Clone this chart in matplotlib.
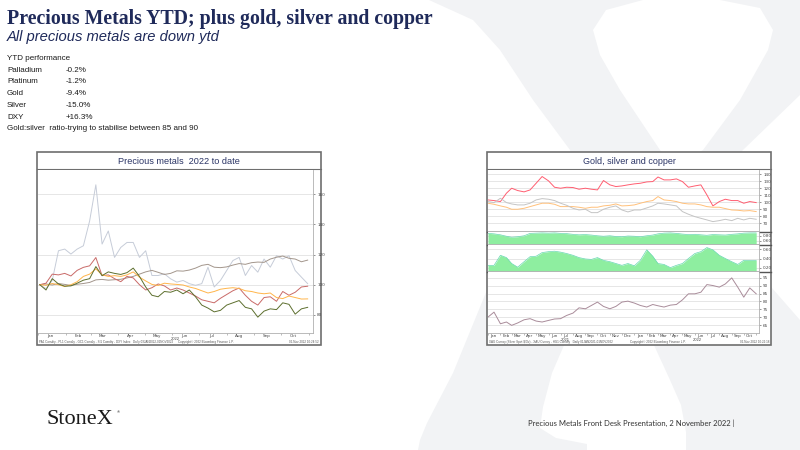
"""Precious metals slide: YTD performance text plus two Bloomberg-style charts."""

import pandas as pd
import matplotlib
matplotlib.use("Agg")
import matplotlib.pyplot as plt
import matplotlib.dates as mdates
from matplotlib.patches import Polygon, Rectangle

W, H = 800, 450
NAVY = "#1f2a5a"
SANS = ["Liberation Sans", "DejaVu Sans"]
SERIF = ["Liberation Serif", "DejaVu Serif"]

# ---- text block ----
perf_names = ["Palladium", "Platinum", "Gold", "Silver", "DXY"]
perf_values = ["-0.2%", "-1.2%", "-9.4%", "-15.0%", "+16.3%"]

# ---- chart 1: precious metals 2022 to date (weekly, rebased to 100) ----
ytd_dates = pd.date_range("2022-01-03", "2022-10-31", freq="7D")
pd_idx = [100, 97.4, 102.8, 122.5, 123.6, 120.3, 123.6, 125.8, 142.2, 166.2, 126.9,
          135.6, 118.1, 124.7, 128, 128, 118.1, 122.5, 106.1, 106.1, 107.2, 103.9,
          101.7, 102.8, 100.7, 99.6, 100.7, 111.6, 98.5, 102.8, 109.4, 116, 118.1,
          106.1, 112.7, 108.3, 117, 111.6, 119.2, 117, 119.2, 109.4, 105, 100.7]
dxy_idx = [100, 100.5, 99.8, 100.8, 100.2, 99.5, 100.3, 100.8, 101.5, 103.2, 103.5,
           103, 103.3, 103.6, 104.5, 105.5, 107, 108.5, 109.5, 108.2, 106.8, 107.5,
           109.2, 109, 109.7, 111, 112.8, 113.5, 111.6, 111.3, 111.8, 113, 114,
           113.5, 114.6, 115, 114.8, 117, 118.2, 119, 117.5, 117, 115.2, 116.3]
pt_idx = [100, 101, 107, 106.5, 107.5, 105.8, 109.5, 111.5, 112.5, 118, 106,
          106.5, 104, 102, 105.5, 104.5, 100, 96.5, 98, 100.5, 99.2, 96.5,
          97.8, 96.5, 94.5, 92.5, 90, 89, 88, 91, 93.5, 96, 97.8,
          93, 89, 86.5, 91.5, 92, 89, 95.5, 93, 95, 98.5, 99]
au_idx = [100, 99.6, 100.8, 100, 98.8, 100, 102, 105.5, 107, 110.5, 106.5,
          105.5, 106, 105.5, 106.5, 108.5, 105, 102.5, 100.2, 99.5, 101, 100.5,
          100.2, 99.8, 98.5, 97.5, 96, 94.5, 95.5, 97, 97.6, 98, 97.5,
          96, 95.5, 94.5, 94, 94.5, 91.5, 90.8, 92.5, 91.5, 90.5, 90.6]
ag_idx = [100, 96.5, 104, 100.5, 99, 99.2, 101, 103, 104, 112, 106,
          108.5, 107.5, 106.8, 108, 111, 105.5, 98.5, 93, 92, 95.5, 95,
          96.5, 94, 96.5, 92, 86.5, 84.5, 82, 83, 86.5, 88, 89.5,
          85, 84, 78.5, 82.5, 84, 83.5, 88, 87, 80.5, 84, 85]

# ---- chart 2: gold, silver and copper since 2021 (semi-monthly) ----
gsc_dates = pd.to_datetime([f"{y}-{m:02d}-{d:02d}" for y in (2021, 2022)
                            for m in range(1, 13) for d in (1, 16)
                            if (y, m) <= (2022, 10)] + ["2022-11-01"])
copper_idx = [103.3, 102.4, 101, 112.9, 120, 116.7, 114.8, 117.6, 127.1, 136.7, 130.5, 121.4,
              120, 121.4, 121, 118.6, 120, 118.6, 117.6, 131, 124.8, 122.4, 123.3, 124.8,
              126.2, 127.1, 129, 129.5, 136, 131.9, 131.9, 133.3, 129.5, 121.4, 123.3, 124.8,
              110.5, 94.8, 101, 104.3, 102.4, 102.4, 98.6, 101, 99.5]
gold_idx = [98.6, 97.1, 94.8, 92.9, 90, 90, 91.4, 93.8, 96.2, 98.6, 98.6, 97.1,
            93.8, 93.8, 93.8, 92.9, 91.4, 92.9, 92.9, 94.8, 95.7, 97.6, 94.8, 95.2,
            96.2, 98.6, 101, 102.4, 108.1, 103.3, 102.4, 101, 98.6, 97.6, 97.6, 96.2,
            93.8, 92.9, 92.9, 91, 89, 88.6, 87.6, 88.1, 86.7]
silver_idx = [101, 99.5, 105.7, 99.5, 97.6, 96.2, 96.2, 98.6, 103.3, 105.2, 104.3, 102.4,
              98.6, 95.7, 91.4, 89, 90, 85.2, 85.2, 90, 92.9, 94.8, 89, 86.2,
              89, 89, 91.9, 94.8, 98.6, 97.6, 96.2, 94.8, 86.7, 82.9, 79.5, 77.1,
              74.8, 72.4, 73.8, 75.7, 73.8, 77.1, 74.8, 77.1, 75.7]
corr_gold = [0.90, 0.88, 0.84, 0.78, 0.74, 0.76, 0.80, 0.90, 0.91, 0.92, 0.91, 0.92,
             0.90, 0.89, 0.86, 0.84, 0.85, 0.83, 0.80, 0.78, 0.80, 0.77, 0.76, 0.79,
             0.78, 0.76, 0.80, 0.83, 0.88, 0.91, 0.92, 0.90, 0.87, 0.85, 0.86, 0.84,
             0.82, 0.85, 0.84, 0.83, 0.86, 0.88, 0.91, 0.92, 0.92]
corr_copper = [0.25, 0.25, 0.47, 0.42, 0.29, 0.21, 0.33, 0.44, 0.45, 0.53, 0.55, 0.56,
               0.54, 0.51, 0.47, 0.42, 0.39, 0.38, 0.42, 0.36, 0.33, 0.29, 0.25, 0.29,
               0.24, 0.36, 0.59, 0.45, 0.29, 0.27, 0.20, 0.25, 0.29, 0.40, 0.51, 0.55,
               0.64, 0.59, 0.47, 0.40, 0.33, 0.27, 0.36, 0.36, 0.36]
gs_ratio = [70.2, 73.3, 66.0, 67.1, 65.0, 66.5, 68.5, 69.2, 67.7, 67.1, 68.1, 69,
            69.2, 71.2, 72.7, 76, 75.4, 77.5, 79.6, 76.9, 75.4, 76.9, 79.6, 80.2,
            79, 77.5, 76.5, 78.1, 77.3, 76.5, 77.7, 78.1, 81, 84.8, 84.8, 85.8,
            90.6, 90, 89, 91, 94.8, 89, 82.7, 88.5, 84.8]


def rect(left, top, right, bottom):
    """Pixel box (y down) -> figure fraction rect."""
    return [left / W, 1 - bottom / H, (right - left) / W, (bottom - top) / H]


def ftext(x, y, s, **kw):
    kw.setdefault("family", SANS)
    return fig.text(x / W, 1 - y / H, s, **kw)


def bbg_axis(ax, ylim, yticks, ylabels):
    ax.set_facecolor("white")
    ax.set_ylim(ylim)
    ax.set_yticks(yticks)
    ax.set_yticklabels(ylabels)
    ax.yaxis.tick_right()
    ax.tick_params(axis="y", labelsize=3.0, length=1.5, width=0.4, pad=1.5,
                   colors="#444444")
    ax.grid(axis="y", color="#e2e2e2", lw=0.6)
    ax.set_axisbelow(True)
    for s in ("top", "left"):
        ax.spines[s].set_visible(False)
    ax.spines["right"].set_color("#b0b0b0")
    ax.spines["right"].set_linewidth(0.6)
    ax.spines["bottom"].set_color("#b0b0b0")
    ax.spines["bottom"].set_linewidth(0.6)


def month_axis(ax, show):
    ax.xaxis.set_major_locator(mdates.MonthLocator(bymonthday=15))
    ax.xaxis.set_minor_locator(mdates.MonthLocator())
    if show:
        ax.xaxis.set_major_formatter(mdates.DateFormatter("%b"))
        ax.tick_params(axis="x", which="major", labelsize=3.0, length=0, pad=0.8,
                       colors="#444444")
        ax.tick_params(axis="x", which="minor", length=1.5, width=0.4,
                       colors="#888888")
    else:
        ax.tick_params(axis="x", which="both", labelbottom=False, length=0)


fig = plt.figure(figsize=(8, 4.5), dpi=100)

# background watermark "X"
bg = fig.add_axes([0, 0, 1, 1])
bg.set_xlim(0, W)
bg.set_ylim(H, 0)
bg.axis("off")
wm = "#f2f3f5"
bg.add_patch(Polygon([(429, 0), (643, 0), (606, 10), (593, 30), (600, 55), (620, 90),
                      (660, 150), (730, 240), (800, 320), (800, 450), (686, 450),
                      (686, 432), (681, 405), (670, 380), (653, 343), (600, 250),
                      (570, 150), (533, 100), (500, 50), (473, 20)],
                     closed=True, fc=wm, ec="none"))
bg.add_patch(Polygon([(720, 0), (800, 0), (800, 95), (743, 150), (640, 260),
                      (565, 343), (552, 373), (543, 407), (540, 428), (556, 438),
                      (587, 444), (587, 450), (418, 450), (420, 440), (427, 423),
                      (453, 373), (487, 290), (600, 210), (703, 150), (740, 100),
                      (768, 50), (773, 30), (760, 8)],
                     closed=True, fc=wm, ec="none"))

# header text
ftext(7, 24, "Precious Metals YTD; plus gold, silver and copper", family=SERIF,
      fontsize=14.3, fontweight="bold", color=NAVY)
ftext(7, 41, "All precious metals are down ytd", fontsize=10.6, style="italic",
      color=NAVY)
ftext(7, 58, "YTD performance", fontsize=5.8, color="#1a1a1a", va="center")
for i, (name, val) in enumerate(zip(perf_names, perf_values)):
    y = 70 + i * 11.8
    ftext(7, y, name, fontsize=5.8, color="#1a1a1a", va="center")
    ftext(66, y, val, fontsize=5.8, color="#1a1a1a", va="center")
ftext(7, 129, "Gold:silver  ratio-trying to stabilise between 85 and 90",
      fontsize=5.8, color="#1a1a1a", va="center")

# footer
ftext(47, 424, "StoneX", family=SERIF, fontsize=16, color="#1a1a1a")
ftext(117, 413, "\u00ae", fontsize=3, color="#1a1a1a")
ftext(735, 423, "Precious Metals Front Desk Presentation, 2 November 2022 |",
      family=["Liberation Sans Narrow", "Lato", "DejaVu Sans"], fontsize=5.5,
      color="#333333", ha="right", va="center")

# chart frames
for (l, t, r, b), title, fs in (((37, 152, 321, 345), "Precious metals  2022 to date", 6.6),
                                ((487, 152, 771, 345), "Gold, silver and copper", 6.5)):
    bg.add_patch(Rectangle((l, t), r - l, b - t, fc="white", ec="#6e6e6e", lw=1.2))
    bg.plot([l, r], [169, 169], color="#6e6e6e", lw=0.8)
    bg.text((l + r) / 2, 161, title, ha="center", va="center", fontsize=fs,
            color="#2b3566", family=SANS)

# ---- left chart ----
ax = fig.add_axes(rect(38, 170, 313, 333))
bbg_axis(ax, (68, 176), [80, 100, 120, 140, 160], ["80", "100", "120", "140", "160"])
ax.plot(ytd_dates, pd_idx, color="#c6ccd8", lw=0.7)
ax.plot(ytd_dates, dxy_idx, color="#a3968c", lw=0.7)
ax.plot(ytd_dates, pt_idx, color="#c96a68", lw=0.7)
ax.plot(ytd_dates, au_idx, color="#ffb54a", lw=0.7)
ax.plot(ytd_dates, ag_idx, color="#5d6f2e", lw=0.7)
ax.set_xlim(pd.Timestamp("2022-01-01"), pd.Timestamp("2022-11-06"))
month_axis(ax, True)
for x, y, s, c in ((145, 249, "Pd", "#8c93a3"), (195, 264, "Dxy", "#8a7e74"),
                   (145, 276, "Au", "#e09a3a"), (227, 297, "Pt", "#b05a58"),
                   (188, 306, "Ag", "#4f5f26")):
    bg.text(x, y, s, fontsize=2.8, color=c, ha="center", va="center", family=SANS)
bg.text(175, 339.5, "2022", fontsize=3, color="#444444", ha="center", va="center",
        family=SANS)
bg.text(39, 342, "PA1 Comdty - PL1 Comdty - GC1 Comdty - SI1 Comdty - DXY Index   Daily 03JAN2022-01NOV2022",
        fontsize=2.2, color="#555555", va="center", family=SANS)
bg.text(206, 342, "Copyright\u00a9 2022 Bloomberg Finance L.P.", fontsize=2.2,
        color="#555555", ha="center", va="center", family=SANS)
bg.text(319, 342, "02-Nov-2022 10:24:52", fontsize=2.2, color="#555555", ha="right",
        va="center", family=SANS)

# ---- right chart ----
x0, x1 = pd.Timestamp("2021-01-01"), pd.Timestamp("2022-11-08")
a1 = fig.add_axes(rect(488, 170, 759, 231))
bbg_axis(a1, (59, 146), list(range(70, 141, 10)), [str(v) for v in range(70, 141, 10)])
a1.plot(gsc_dates, copper_idx, color="#ff5d70", lw=0.7)
a1.plot(gsc_dates, gold_idx, color="#ffc07a", lw=0.7)
a1.plot(gsc_dates, silver_idx, color="#c4c4c4", lw=0.7)

a2 = fig.add_axes(rect(488, 232, 759, 244))
bbg_axis(a2, (0.457, 0.957), [0.6, 0.8], ["0.60", "0.80"])
a2.fill_between(gsc_dates, 0.457, corr_gold, color="#8eeea0", lw=0)
a2.plot(gsc_dates, corr_gold, color="#66d8b0", lw=0.5)

a3 = fig.add_axes(rect(488, 245, 759, 271))
bbg_axis(a3, (0.126, 0.696), [0.2, 0.4, 0.6], ["0.20", "0.40", "0.60"])
a3.fill_between(gsc_dates, 0.126, corr_copper, color="#8eeea0", lw=0)
a3.plot(gsc_dates, corr_copper, color="#66d8b0", lw=0.5)

a4 = fig.add_axes(rect(488, 272, 759, 333))
bbg_axis(a4, (60.2, 98.5), list(range(65, 96, 5)), [str(v) for v in range(65, 96, 5)])
a4.plot(gsc_dates, gs_ratio, color="#a98c9a", lw=0.7)

for a in (a1, a2, a3, a4):
    a.set_xlim(x0, x1)
    month_axis(a, a is a4)

for y in (231.5, 244.5, 271.5):
    bg.plot([487, 771], [y, y], color="#555555", lw=1.0)
for x, y, s, c in ((520, 184, "Copper", "#ff5d70"), (732, 213, "Gold", "#f0a040"),
                   (697, 224, "Silver", "#a0a0a0"), (639, 237, "with gold", "#f0a040"),
                   (605, 253, "with copper", "#b8d040"),
                   (624, 278, "Gold:silver ratio", "#556030")):
    bg.text(x, y, s, fontsize=2.8, color=c, ha="center", va="center", family=SANS)
bg.text(565, 339.8, "2021", fontsize=3, color="#444444", ha="center", va="center",
        family=SANS)
bg.text(697, 339.8, "2022", fontsize=3, color="#444444", ha="center", va="center",
        family=SANS)
bg.text(489, 342.3, "XAG Curncy (Silver Spot $/Oz) - XAU Curncy - HG1 Comdty   Daily 01JAN2021-01NOV2022",
        fontsize=2.2, color="#555555", va="center", family=SANS)
bg.text(658, 342.3, "Copyright\u00a9 2022 Bloomberg Finance L.P.", fontsize=2.2,
        color="#555555", ha="center", va="center", family=SANS)
bg.text(769, 342.3, "02-Nov-2022 10:22:18", fontsize=2.2, color="#555555", ha="right",
        va="center", family=SANS)

fig.savefig("out.png", dpi=100)
